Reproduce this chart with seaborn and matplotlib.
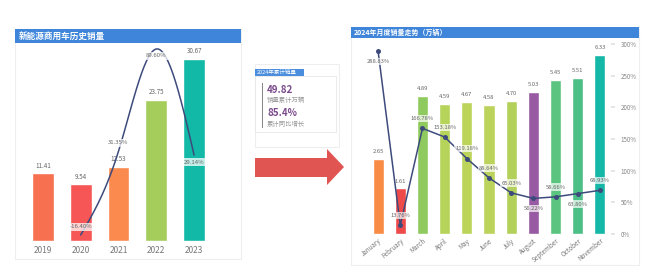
import numpy as np
import pandas as pd
import matplotlib
matplotlib.use("Agg")
import matplotlib.pyplot as plt
import seaborn as sns
from matplotlib.patches import Rectangle, Polygon

# ---------------- data ----------------
years = ["2019", "2020", "2021", "2022", "2023"]
year_sales = [11.41, 9.54, 12.53, 23.75, 30.67]
year_growth_years = ["2020", "2021", "2022", "2023"]
year_growth = [-16.40, 31.35, 89.60, 29.14]
year_colors = ["#F7704F", "#F65656", "#FA8A4E", "#A4CD5C", "#12B9A6"]

months = ["January", "February", "March", "April", "May", "June", "July",
          "August", "September", "October", "November"]
month_sales = [2.65, 1.61, 4.89, 4.59, 4.67, 4.58, 4.70, 5.03, 5.45, 5.51, 6.33]
month_growth = [288.83, 13.76, 166.78, 153.18, 119.18, 88.64, 65.03, 56.22,
                58.66, 63.80, 68.93]
month_colors = ["#F98C45", "#EE4A4A", "#8FCA5E", "#B6D35A", "#BDD45B", "#BBD35B",
                "#B3D05B", "#985BA3", "#5BC57F", "#4CBF86", "#15B7A6"]

card_title = "2024年累计销量"
card_value1 = "49.82"
card_label1 = "销量累计万辆"
card_value2 = "85.4%"
card_label2 = "累计同比增长"

left_title = "新能源商用车历史销量"
right_title = "2024年月度销量走势（万辆）"

# ---------------- style ----------------
sns.set_theme(style="white")
plt.rcParams["font.family"] = ["Noto Sans CJK SC", "DejaVu Sans"]

W, H = 650, 268
fig = plt.figure(figsize=(W / 100, H / 100), dpi=100)
fig.patch.set_facecolor("white")


def fr(x, y):
    return x / W, 1 - y / H


def rect(x0, y0, x1, y1, **kw):
    fx, fy = fr(x0, y1)
    r = Rectangle((fx, fy), (x1 - x0) / W, (y1 - y0) / H,
                  transform=fig.transFigure, zorder=-5, **kw)
    fig.patches.append(r)
    return r


def ax_at(x0, y0, x1, y1):
    fx, fy = fr(x0, y1)
    return fig.add_axes([fx, fy, (x1 - x0) / W, (y1 - y0) / H])


BLUE = "#3F86DA"
LINE = "#3D4B7C"

# ---------- panels ----------
rect(15, 29, 241, 259, facecolor="white", edgecolor="#EEEEEE", lw=0.8)
rect(15, 29, 241, 43, facecolor=BLUE, edgecolor="none")
fig.text(*fr(19, 36), left_title, color="white", fontsize=6.2,
         fontweight="bold", va="center", ha="left")

rect(351, 27, 639, 265, facecolor="white", edgecolor="#EEEEEE", lw=0.8)
rect(351, 27, 639, 38, facecolor=BLUE, edgecolor="none")
fig.text(*fr(354, 32.5), right_title, color="white", fontsize=5,
         fontweight="bold", va="center", ha="left")

# card
rect(255, 64, 339, 147, facecolor="white", edgecolor="#EEEEEE", lw=0.8)
rect(255, 69, 304, 76, facecolor="#4A8EDD", edgecolor="none")
fig.text(*fr(257, 72.5), card_title, color="white", fontsize=4,
         va="center", ha="left")
rect(255, 76, 336, 132, facecolor="white", edgecolor="#E6E6E6", lw=0.6)
rect(261.5, 83, 262.5, 128, facecolor="#888888", edgecolor="none")
fig.text(*fr(267, 90), card_value1, color="#7B4A8C", fontsize=7,
         fontweight="bold", va="center", ha="left")
fig.text(*fr(267, 100), card_label1, color="#999999", fontsize=4.6,
         va="center", ha="left")
fig.text(*fr(267, 113), card_value2, color="#7B4A8C", fontsize=7,
         fontweight="bold", va="center", ha="left")
fig.text(*fr(267, 124), card_label2, color="#999999", fontsize=4.6,
         va="center", ha="left")

# arrow
pts = [(255, 158), (327, 158), (327, 149), (344, 167), (327, 185), (327, 177), (255, 177)]
arrow = Polygon([fr(x, y) for x, y in pts], closed=True, transform=fig.transFigure,
                facecolor="#E05452", edgecolor="none", zorder=-4)
fig.patches.append(arrow)

# ---------- left chart ----------
axL = ax_at(24, 45, 213, 241)
dfL = pd.DataFrame({"year": years, "sales": year_sales})
sns.barplot(data=dfL, x="year", y="sales", hue="year", palette=year_colors,
            width=0.58, legend=False, ax=axL, saturation=1)
axL.set_xlim(-0.5, 4.5)
axL.set_ylim(0, 33.03)
axL.set_xlabel("")
axL.set_ylabel("")
axL.set_yticks([])
axL.tick_params(axis="x", length=0, pad=3.6, labelsize=6, labelcolor="#777777")
for s in axL.spines.values():
    s.set_visible(False)
axL.patch.set_alpha(0)
for i, v in enumerate(year_sales):
    axL.annotate(f"{v:.2f}", (i, v), xytext=(0, 5.5), textcoords="offset points",
                 ha="center", va="center", fontsize=4.5, color="#666666")

axL2 = axL.twinx()
axL2.set_ylim(-19.82, 91.88)
axL2.set_yticks([])
for s in axL2.spines.values():
    s.set_visible(False)
xg = np.array([years.index(y) for y in year_growth_years], dtype=float)
yg = np.array(year_growth)
# natural cubic spline for smooth rendering of the curve
n = len(xg)
A = np.zeros((n, n)); b = np.zeros(n)
A[0, 0] = 1; A[-1, -1] = 1
for k in range(1, n - 1):
    A[k, k - 1] = 1; A[k, k] = 4; A[k, k + 1] = 1
    b[k] = 6 * (yg[k + 1] - 2 * yg[k] + yg[k - 1])
M = np.linalg.solve(A, b)
xs, ys = [], []
for k in range(n - 1):
    t = np.linspace(0, 1, 40)
    yk = ((1 - t) * yg[k] + t * yg[k + 1]
          + ((1 - t) ** 3 - (1 - t)) * M[k] / 6 + (t ** 3 - t) * M[k + 1] / 6)
    xs.append(xg[k] + t); ys.append(yk)
sns.lineplot(x=np.concatenate(xs), y=np.concatenate(ys), ax=axL2, color=LINE,
             lw=1.1, sort=False)
offs = [6, 6, -5, -5]
for x, y, o in zip(xg, yg, offs):
    axL2.annotate(f"{y:.2f}%", (x, y), xytext=(0, o), textcoords="offset points",
                  ha="center", va="center", fontsize=4.3, color="#666666",
                  bbox=dict(boxstyle="square,pad=0.25", fc="white", ec="none", alpha=0.75))
axL2.set_ylabel("")

# ---------- right chart ----------
axR = ax_at(367, 44, 611, 234)
dfR = pd.DataFrame({"month": months, "sales": month_sales})
sns.barplot(data=dfR, x="month", y="sales", hue="month", palette=month_colors,
            width=0.5, legend=False, ax=axR, saturation=1)
axR.set_xlim(-0.5, 10.5)
axR.set_ylim(0, 6.72)
axR.set_xlabel("")
axR.set_ylabel("")
axR.set_yticks([])
axR.tick_params(axis="x", length=0, pad=2, labelsize=4.5, labelcolor="#777777")
for lbl in axR.get_xticklabels():
    lbl.set_rotation(40)
    lbl.set_ha("right")
    lbl.set_rotation_mode("anchor")
for s in axR.spines.values():
    s.set_visible(False)
axR.patch.set_alpha(0)
for i, v in enumerate(month_sales):
    axR.annotate(f"{v:.2f}", (i, v), xytext=(0, 5.3), textcoords="offset points",
                 ha="center", va="center", fontsize=4.2, color="#666666")

axR2 = axR.twinx()
axR2.set_ylim(0, 300)
axR2.set_yticks(list(range(0, 301, 50)))
axR2.set_yticklabels([f"{t}%" for t in range(0, 301, 50)])
axR2.tick_params(axis="y", length=3, color="#E2E2E2", pad=4, labelsize=4.5,
                 labelcolor="#888888")
for s in axR2.spines.values():
    s.set_visible(False)
sns.lineplot(x=np.arange(len(months)), y=month_growth, ax=axR2, color=LINE,
             lw=1.1, marker="o", markersize=3.6, markeredgewidth=0)
axR2.set_ylabel("")
roffs = [-7.5, 7, 7, 7, 7, 7, 7, -7.5, 7, -7.5, 7]
for i, (y, o) in enumerate(zip(month_growth, roffs)):
    axR2.annotate(f"{y:.2f}%", (i, y), xytext=(0, o), textcoords="offset points",
                  ha="center", va="center", fontsize=4.2, color="#666666",
                  bbox=dict(boxstyle="square,pad=0.2", fc="white", ec="none", alpha=0.7))

fig.savefig("out.png", dpi=100)
